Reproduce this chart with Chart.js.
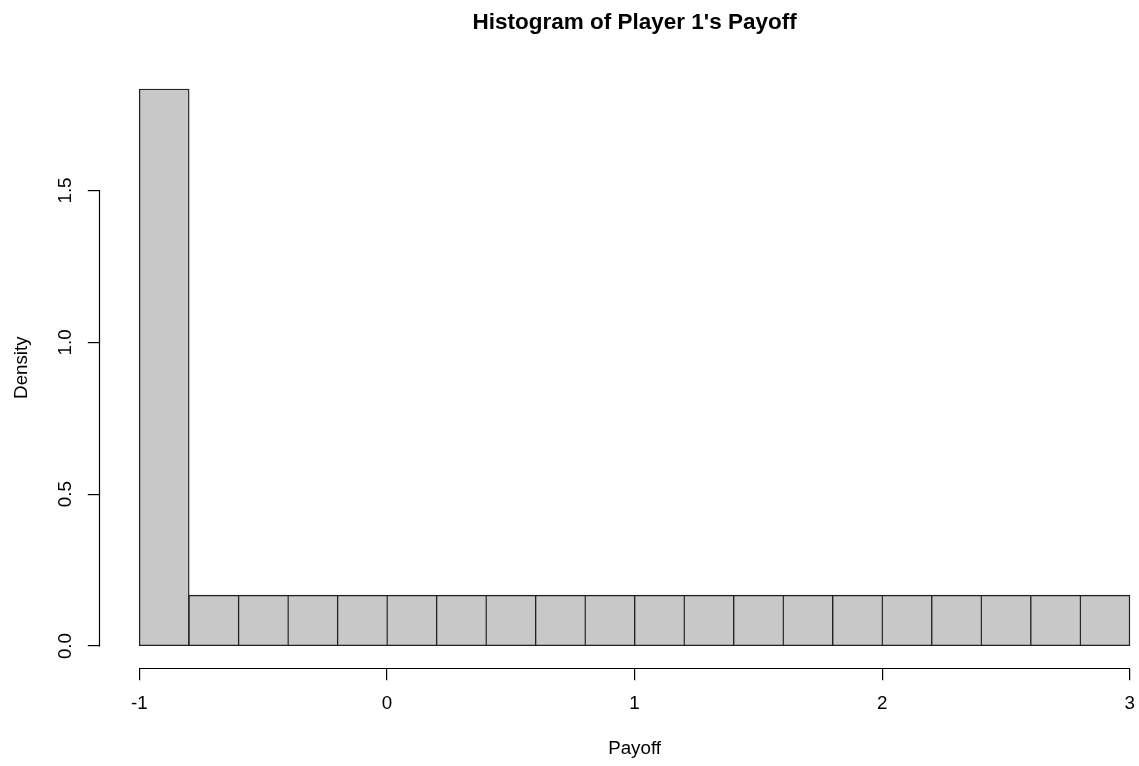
<!DOCTYPE html>
<html>
<head>
<meta charset="utf-8">
<script src="https://cdn.jsdelivr.net/npm/chart.js@4.4.1/dist/chart.umd.min.js"></script>
<style>
  html, body { margin: 0; padding: 0; background: #fff; overflow: hidden; }
  canvas { display: block; }
</style>
</head>
<body>
<canvas id="myChart" width="1170" height="766"></canvas>
<script>
// histogram bins (width 0.2)
var binMids = [-0.9, -0.7, -0.5, -0.3, -0.1, 0.1, 0.3, 0.5, 0.7, 0.9,
               1.1, 1.3, 1.5, 1.7, 1.9, 2.1, 2.3, 2.5, 2.7, 2.9];
var density = [1.8333, 0.1667, 0.1667, 0.1667, 0.1667, 0.1667, 0.1667, 0.1667, 0.1667, 0.1667,
               0.1667, 0.1667, 0.1667, 0.1667, 0.1667, 0.1667, 0.1667, 0.1667, 0.1667, 0.1667];
var xTicks = [-1, 0, 1, 2, 3];
var xTickLabels = ["-1", "0", "1", "2", "3"];
var yTicks = [0, 0.5, 1, 1.5];
var yTickLabels = ["0.0", "0.5", "1.0", "1.5"];

Chart.defaults.font.family = "'Liberation Sans', Arial, Helvetica, sans-serif";
Chart.defaults.font.size = 18.75;
Chart.defaults.color = "#000";

function align(p) {
  return Math.round(p - 0.5) + 0.5;
}

// R style axis lines, only from first to last tick
var rAxes = {
  id: "rAxes",
  afterDraw: function (chart) {
    var ctx = chart.ctx;
    var xs = chart.scales.x, ys = chart.scales.y;
    var area = chart.chartArea;
    ctx.save();
    ctx.strokeStyle = "#000";
    ctx.lineWidth = 1.2;
    ctx.beginPath();
    var by = align(area.bottom);
    ctx.moveTo(align(xs.getPixelForValue(xTicks[0])), by);
    ctx.lineTo(align(xs.getPixelForValue(xTicks[xTicks.length - 1])), by);
    var lx = align(area.left);
    ctx.moveTo(lx, align(ys.getPixelForValue(yTicks[0])));
    ctx.lineTo(lx, align(ys.getPixelForValue(yTicks[yTicks.length - 1])));
    ctx.stroke();
    ctx.restore();
  }
};

var ctx = document.getElementById("myChart").getContext("2d");
var last = binMids.length - 1;
var bw = 1.4;
var myChart = new Chart(ctx, {
  type: "bar",
  data: {
    datasets: [
      {
        data: binMids.map(function (m, i) { return { x: m, y: density[i] }; }),
        backgroundColor: "#c8c8c8",
        borderColor: "#222",
        // shared edges drawn once; keep right edge when the next bin is lower
        borderWidth: function (c) {
          var i = c.dataIndex;
          var right = (i === last || density[i] > density[i + 1]) ? bw : 0;
          return { top: bw, left: bw, bottom: bw, right: right };
        },
        borderSkipped: false,
        inflateAmount: 0.6,
        barPercentage: 1,
        categoryPercentage: 1,
      },
    ],
  },
  options: {
    responsive: false,
    animation: false,
    layout: { padding: { left: 0, right: 0.7, top: 0, bottom: 0 } },
    plugins: {
      legend: { display: false },
      tooltip: { enabled: false },
      title: {
        display: true,
        text: "Histogram of Player 1's Payoff",
        fullSize: false,
        color: "#000",
        font: { size: 22.5, weight: "bold" },
        padding: { top: 9.5, bottom: 30.5 },
      },
    },
    scales: {
      x: {
        type: "linear",
        min: -1.16,
        max: 3.16,
        offset: false,
        border: { display: false },
        grid: { offset: false, drawOnChartArea: false, drawTicks: true, tickLength: 12, color: "#000", lineWidth: 1.2 },
        afterBuildTicks: function (scale) {
          scale.ticks = xTicks.map(function (v) { return { value: v }; });
        },
        ticks: {
          maxRotation: 0,
          autoSkip: false,
          padding: 12.6,
          callback: function (v, i) { return xTickLabels[i]; },
        },
        title: { display: true, text: "Payoff", padding: { top: 0, bottom: 5.75 } },
        afterFit: function (scale) { scale.height = 97.7; },
      },
      y: {
        min: -0.07333,
        max: 1.90667,
        border: { display: false },
        grid: { drawOnChartArea: false, drawTicks: true, tickLength: 12, color: "#000", lineWidth: 1.2 },
        afterBuildTicks: function (scale) {
          scale.ticks = yTicks.map(function (v) { return { value: v }; });
        },
        ticks: {
          minRotation: 90,
          maxRotation: 90,
          crossAlign: "center",
          autoSkip: false,
          padding: 8.85,
          callback: function (v, i) { return yTickLabels[i]; },
        },
        title: { display: true, text: "Density", padding: { top: 10.45, bottom: 0 } },
        afterFit: function (scale) { scale.width = 99.8; },
      },
    },
  },
  plugins: [rAxes],
});
</script>
</body>
</html>
